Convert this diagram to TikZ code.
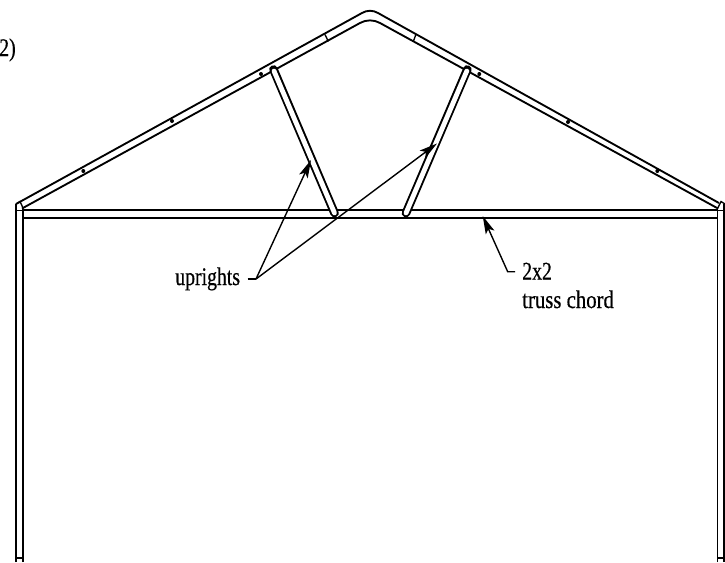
\documentclass[tikz,border=0pt]{standalone}
\usepackage{fontspec}
\setmainfont[FakeStretch=0.78,FakeBold=0.5]{Liberation Serif}
\usetikzlibrary{arrows.meta}
\tikzset{
  line/.style={line width=1.4pt,line join=round},
  thin line/.style={line width=1pt},
  leader/.style={line width=1.05pt},
  tip/.style={-{Stealth[length=13.5pt,width=7pt,inset=3pt]}},
  lbl/.style={font=\fontsize{19pt}{22pt}\selectfont,inner sep=0pt,anchor=base west},
  dot/.style={circle,fill=black,inner sep=0pt,minimum size=3pt}
}
\begin{document}
\begin{tikzpicture}[x=0.75pt,y=-0.75pt]
\useasboundingbox (0,0) rectangle (725,562);
% rafters
\draw[line] (16,204) -- (362,13) .. controls (367,10) and (373,10) .. (378,13) -- (719,203);
\draw[line] (22,208.5) -- (360,23) .. controls (366,19.5) and (374,19.5) .. (380,23) -- (718,208.5);
% rafter splice ticks
\draw[thin line] (325,34.5) -- (328.3,41.5);
\draw[thin line] (415.7,35) -- (413.3,41.5);
% chord
\draw[line] (23,210.3) -- (717.5,210.3);
\draw[line] (23,218.3) -- (717.5,218.3);
% posts
\draw[line] (16,562) -- (16,204);
\draw[line] (23.3,562) -- (23.3,208.5);
\draw[line] (717.5,562) -- (717.5,208.5);
\draw[line] (724.4,562) -- (724.4,204);
\draw[line] (16,557.7) -- (23.3,557.7);
\draw[line] (717.5,557.7) -- (725,557.7);
% post caps
\draw[thin line] (16,204) -- (20,201.5) -- (23.3,208.5);
\draw[thin line] (16,210.3) -- (23,210.3);
\draw[thin line] (717.5,208.5) -- (721,201.5) -- (725,204);
\draw[thin line] (717.5,210.3) -- (725,210.3);
% uprights
\draw[line width=6.5pt,line cap=round] (273.5,69.5) -- (334.5,213);
\draw[white,line width=3.6pt,line cap=round] (274,71) -- (334.5,213);
\draw[line width=6.5pt,line cap=round] (467.3,69.5) -- (406,213);
\draw[white,line width=3.6pt,line cap=round] (466.8,71) -- (406,213);
% bolts
\foreach \n/\x/\y in {a/83.3/171,b/172/121,c/261/74,d/479.3/74,e/568/122,f/657.3/171}
  \node[dot] (\n) at (\x,\y) {};
% labels
\node[lbl] (two) at (-1,56) {2)};
\node[lbl] (up) at (175,285) {uprights};
\node[lbl] (ch) at (522,279.5) {2x2};
\node[lbl,xscale=1.05] (tr) at (522,308) {truss chord};
% leaders
\coordinate (upA) at (247.7,279);
\coordinate (upB) at (256,279);
\coordinate (tipL) at (311,160);
\coordinate (tipR) at (437,143.5);
\coordinate (chA) at (515,271.7);
\coordinate (chB) at (507.7,271.7);
\coordinate (tipC) at (482.7,216);
\draw[leader] (upA) -- (upB);
\draw[leader,tip] (upB) -- (tipL);
\draw[leader,tip] (upB) -- (tipR);
\draw[leader,tip] (chA) -- (chB) -- (tipC);
\end{tikzpicture}
\end{document}
